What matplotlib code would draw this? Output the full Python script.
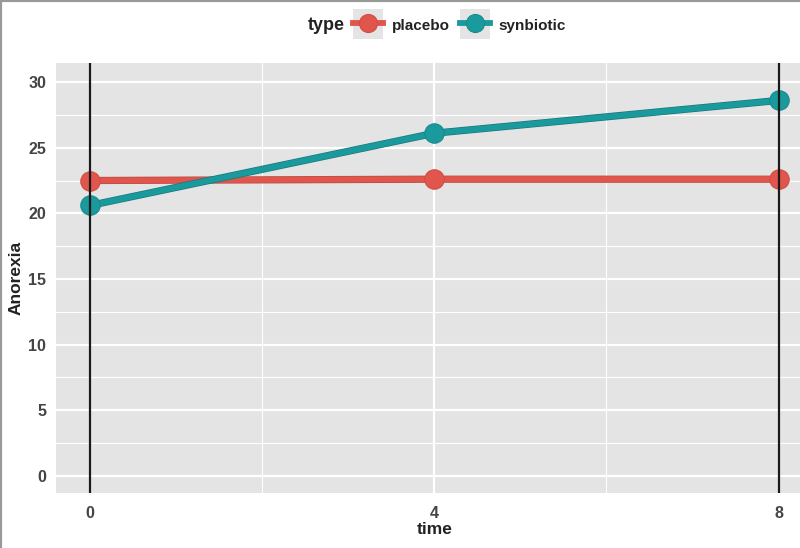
import matplotlib
matplotlib.use('Agg')
import matplotlib.pyplot as plt
import matplotlib.patheffects as pe
from matplotlib.patches import Rectangle
from matplotlib.lines import Line2D
from matplotlib.legend_handler import HandlerLine2D

plt.rcParams['font.family'] = ['Liberation Sans Narrow', 'Liberation Sans', 'DejaVu Sans']

time = [0, 4, 8]
placebo = [22.5, 22.6, 22.6]
synbiotic = [20.6, 26.1, 28.6]
vlines = [0, 8]
y_ticks = [0, 5, 10, 15, 20, 25, 30]
x_ticks = [0, 4, 8]

red = '#E0554C'
teal = '#1A9A9C'


class KeyHandler(HandlerLine2D):
    # grey square behind each legend key, like ggplot
    def create_artists(self, legend, orig_handle, xdescent, ydescent,
                       width, height, fontsize, trans):
        cy = -ydescent + height / 2
        bg = Rectangle((-xdescent, cy - width / 2), width, width,
                       facecolor='#E4E4E4', edgecolor='none', transform=trans)
        arts = super().create_artists(legend, orig_handle, xdescent, ydescent,
                                      width, height, fontsize, trans)
        return [bg] + list(arts)


fig = plt.figure(figsize=(8, 5.48), dpi=100)
ax = fig.add_axes([56 / 800, 55 / 548, 757 / 800, 430 / 548])
ax.set_facecolor('#E4E4E4')

for x in [2, 6]:
    ax.axvline(x, color='white', lw=0.8, zorder=0)
for y in [2.5, 7.5, 12.5, 17.5, 22.5, 27.5]:
    ax.axhline(y, color='white', lw=0.8, zorder=0)
for x in x_ticks:
    ax.axvline(x, color='white', lw=1.6, zorder=0)
for y in y_ticks:
    ax.axhline(y, color='white', lw=1.6, zorder=0)

series = [('placebo', placebo, red, '#B94A42', '#D24E45'),
          ('synbiotic', synbiotic, teal, '#17777A', '#178C8E')]
handles = []
for name, vals, col, dark, edge in series:
    ax.plot(time, vals, color=col, lw=4.2, zorder=3,
            path_effects=[pe.Stroke(linewidth=5.2, foreground=dark), pe.Normal()])
    ax.plot(time, vals, ls='none', marker='o', ms=14, mfc=col, mec=edge,
            mew=0.8, zorder=3.5)
    handles.append(Line2D([], [], color=col, lw=4.2, marker='o', ms=13,
                          mfc=col, mec=edge, mew=0.8, label=name))

for v in vlines:
    ax.axvline(v, color='#1A1A1A', lw=1.6, zorder=4)

ax.set_xlim(-0.395, 8.4)
ax.set_ylim(-1.3, 31.45)
ax.set_xticks(x_ticks)
ax.set_yticks(y_ticks)
ax.tick_params(length=0, labelsize=11.5, colors='#444444')
ax.tick_params(axis='x', pad=9)
ax.tick_params(axis='y', pad=7)
for lab in ax.get_xticklabels() + ax.get_yticklabels():
    lab.set_fontweight('bold')
for s in ax.spines.values():
    s.set_visible(False)

ax.set_xlabel('time', fontsize=12.5, color='#222222', labelpad=1,
              fontweight='bold')
ax.set_ylabel('Anorexia', fontsize=12.5, color='#222222', fontweight='bold')
ax.yaxis.set_label_coords(-0.043, 0.5)

fig.text(326 / 800, 1 - 25 / 548, 'type', fontsize=13, color='#222222',
         ha='center', va='center', fontweight='bold')
fig.legend(handles=handles, loc='center left',
           bbox_to_anchor=(353 / 800, 1 - 25 / 548), ncol=2, frameon=False,
           fontsize=11, handlelength=1.95, handleheight=1.0, handletextpad=0.6,
           columnspacing=0.65, borderpad=0, borderaxespad=0,
           handler_map={h: KeyHandler() for h in handles})
for t in fig.legends[0].get_texts():
    t.set_fontweight('bold')
    t.set_color('#222222')

# screenshot frame, top and left edges only
fig.add_artist(Line2D([0, 1], [1, 1], transform=fig.transFigure,
                      color='#999999', lw=3))
fig.add_artist(Line2D([0, 0], [0, 1], transform=fig.transFigure,
                      color='#999999', lw=3))

fig.savefig('out.png', dpi=100)
